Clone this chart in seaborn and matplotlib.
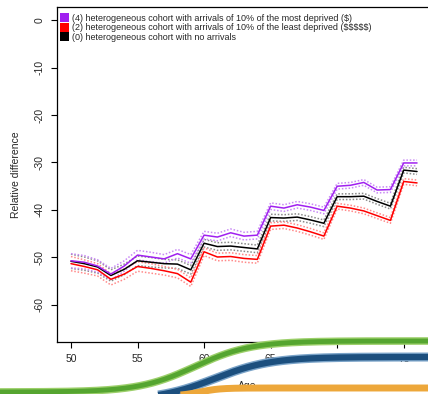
import numpy as np
import pandas as pd
import seaborn as sns
import matplotlib.pyplot as plt
from matplotlib.patches import Patch

# values (yearly, age 50..76)
ages = list(range(50, 77))
most_deprived = [-50.7, -51.0, -51.8, -53.5, -51.8, -49.5, -49.9, -50.3, -49.2, -50.3,
                 -45.3, -45.7, -44.8, -45.5, -45.3, -39.2, -39.6, -38.9, -39.4, -40.1,
                 -35.0, -34.8, -34.2, -35.8, -35.7, -30.1, -30.1]
least_deprived = [-51.3, -51.9, -52.6, -54.6, -53.5, -51.9, -52.3, -52.8, -53.4, -55.2,
                  -48.8, -49.9, -49.8, -50.2, -50.4, -43.4, -43.2, -43.8, -44.6, -45.5,
                  -39.2, -39.6, -40.2, -41.2, -42.2, -34.0, -34.3]
no_arrivals = [-50.8, -51.3, -52.0, -53.8, -52.5, -50.7, -51.0, -51.3, -51.4, -52.6,
               -47.0, -47.7, -47.6, -47.9, -48.2, -41.6, -41.7, -41.5, -42.1, -42.8,
               -37.2, -37.2, -37.1, -38.2, -39.2, -31.6, -31.9]
ci_half = [1.5, 1.4, 1.3, 1.2, 1.1, 1.0, 1.0, 0.9, 0.9, 0.9,
           0.8, 0.8, 0.8, 0.8, 0.8, 0.7, 0.7, 0.7, 0.7, 0.7,
           0.6, 0.6, 0.6, 0.6, 0.6, 0.6, 0.6]

labels = ["(4) heterogeneous cohort with arrivals of 10% of the most deprived ($)",
          "(2) heterogeneous cohort with arrivals of 10% of the least deprived ($$$$$)",
          "(0) heterogeneous cohort with no arrivals"]
colors = ["#A020F0", "#FF0000", "#000000"]
band_colors = ["#C98AF5", "#FF8A8A", "#8A8A8A"]
series = [most_deprived, least_deprived, no_arrivals]

sns.set_style("ticks")
plt.rcParams['font.family'] = ['Liberation Sans', 'DejaVu Sans']
plt.rcParams['mathtext.default'] = 'regular'

fig = plt.figure(figsize=(4.28, 3.94), dpi=100)
ax = fig.add_axes([57 / 428, 52 / 394, 380 / 428, 335 / 394])

frames = []
for lab, vals in zip(labels, series):
    frames.append(pd.DataFrame({"age": ages, "value": vals, "group": lab}))
df = pd.concat(frames)
df["lo"] = df["value"] - np.tile(ci_half, 3)
df["hi"] = df["value"] + np.tile(ci_half, 3)

for lab, col, bcol in zip(labels[::-1], colors[::-1], band_colors[::-1]):
    d = df[df["group"] == lab]
    for c in ["lo", "hi"]:
        sns.lineplot(data=d, x="age", y=c, color=bcol, lw=1.1,
                     linestyle=(0, (1, 1.2)), ax=ax, zorder=2)
    sns.lineplot(data=d, x="age", y="value", color=col, lw=1.1, ax=ax, zorder=3)

ax.set_xlim(48.95, 77.5)
ax.set_ylim(-67.8, 2.74)
ax.set_xticks([50, 55, 60, 65, 70, 75])
ax.set_yticks([0, -10, -20, -30, -40, -50, -60])
ax.set_yticklabels(["0", "-10", "-20", "-30", "-40", "-50", "-60"],
                   rotation=90, va="center")
ax.tick_params(axis="both", labelsize=7.5, length=4, width=0.8, color="black", pad=5)
ax.tick_params(axis="y", pad=5)
for s in ax.spines.values():
    s.set_linewidth(0.9)
    s.set_color("black")
ax.set_xlabel("Age", fontsize=7.5, labelpad=12)
ax.set_ylabel("Relative difference", fontsize=7.5, labelpad=10)

handles = [Patch(facecolor=c, edgecolor="none") for c in colors]
ax.legend(handles, labels, loc="upper left", bbox_to_anchor=(0.0, 0.99), frameon=False,
          fontsize=6.5, handlelength=1.05, handleheight=1.15, handletextpad=0.3,
          labelspacing=0.02, borderaxespad=0.2, borderpad=0.1)

# decorative swooshes overlapping the bottom of the picture
ov = fig.add_axes([0, 0, 1, 1], zorder=10)
ov.set_xlim(0, 428)
ov.set_ylim(394, 0)
ov.axis("off")
px = np.linspace(0, 428, 400)
green = 392 - 51 / (1 + np.exp(-(px - 195) / 28))
blue = 400 - 43 / (1 + np.exp(-(px - 215) / 28))
orange = 396 - 8 / (1 + np.exp(-(px - 200) / 10))
ov.plot(px, green, color="#9ccf6a", lw=5.5, solid_capstyle="butt")
ov.plot(px, green, color="#55a530", lw=3.5, solid_capstyle="butt")
ov.plot(px, blue, color="#7aa3c8", lw=6.5, solid_capstyle="butt")
ov.plot(px, blue, color="#1c4f7e", lw=4.5, solid_capstyle="butt")
ov.plot(px, orange, color="#eda73a", lw=5, solid_capstyle="butt")

fig.savefig("out.png", dpi=100)
